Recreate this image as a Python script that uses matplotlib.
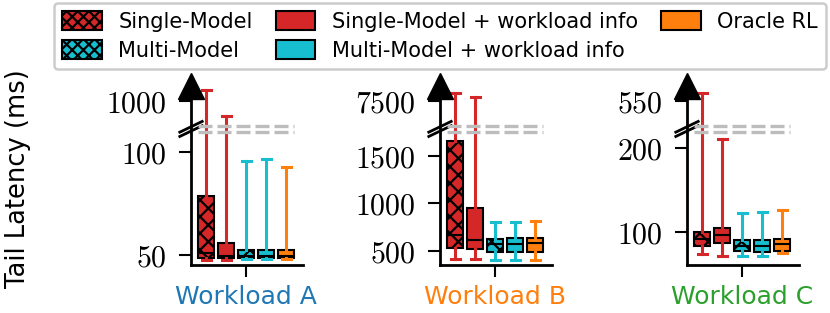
import numpy as np
import matplotlib.pyplot as plt
from matplotlib.patches import Patch

plt.rcParams['font.family'] = 'DejaVu Sans'
plt.rcParams['mathtext.fontset'] = 'cm'
plt.rcParams['hatch.linewidth'] = 1.6

workloads = ['Workload A', 'Workload B', 'Workload C']
workload_colors = ['#1f77b4', '#ff7f0e', '#2ca02c']
methods = ['Single-Model', 'Single-Model + workload info', 'Multi-Model',
           'Multi-Model + workload info', 'Oracle RL']
method_colors = ['#d62728', '#d62728', '#17becf', '#17becf', '#ff7f0e']
hatched = [True, False, True, False, False]

# box stats per workload (methods in the order above)
q1 = [[48.5, 48.5, 48.5, 48.5, 48.5],
      [528, 518, 493, 493, 493],
      [83.6, 86.7, 77.7, 77.0, 77.7]]
med = [[51, 49.5, 49.5, 49.5, 49.5],
       [668, 615, 570, 569, 580],
       [92.5, 96.7, 84.0, 83.5, 86.0]]
q3 = [[78.6, 55.8, 52.4, 52.4, 52.4],
      [1657, 955, 623, 633, 633],
      [100.7, 104.6, 90.8, 90.8, 91.5]]
whislo = [[47.5, 47.5, 47.8, 47.8, 47.8],
          [413, 413, 405, 405, 405],
          [74, 72, 72, 72, 75]]
whishi = [[1349, 524, 95.8, 96.6, 92.9],
          [9073, 8378, 807, 807, 810],
          [647, 211, 123.4, 124, 126.5]]

yticks = [[50, 100, 1000], [500, 1000, 1500, 7500], [100, 200, 550]]

# broken y axis: linear below the break, compressed above it
scale_lo = [45.1, 353, 61]
scale_break = [111.2, 1780, 223]
scale_hi = [1476, 10564, 725]
break_frac = 0.76


def make_scale(lo, brk, hi, fb):
    def fwd(v):
        v = np.asarray(v, dtype=float)
        return np.where(v <= brk, (v - lo) / (brk - lo) * fb,
                        fb + (v - brk) / (hi - brk) * (1 - fb))

    def inv(f):
        f = np.asarray(f, dtype=float)
        return np.where(f <= fb, lo + f / fb * (brk - lo),
                        brk + (f - fb) / (1 - fb) * (hi - brk))
    return fwd, inv


fig = plt.figure(figsize=(8.3, 3.13), dpi=100)
lefts = [191 / 830, 440 / 830, 687 / 830]
positions = [-2, -1, 0, 1, 2]

for k in range(3):
    ax = fig.add_axes([lefts[k], 0.1534, 0.135, 0.5719])
    fwd, inv = make_scale(scale_lo[k], scale_break[k], scale_hi[k], break_frac)
    ax.set_yscale('function', functions=(fwd, inv))

    stats = []
    for i in range(5):
        stats.append(dict(q1=q1[k][i], med=med[k][i], q3=q3[k][i],
                          whislo=whislo[k][i], whishi=whishi[k][i], fliers=[]))
    bp = ax.bxp(stats, positions=positions, widths=0.8, patch_artist=True,
                showfliers=False, capwidths=0.45,
                boxprops=dict(edgecolor='k', linewidth=1.5),
                medianprops=dict(color='k', linewidth=1.5),
                whiskerprops=dict(linewidth=2.2),
                capprops=dict(linewidth=2.2))
    for i in range(5):
        bp['boxes'][i].set_facecolor(method_colors[i])
        if hatched[i]:
            bp['boxes'][i].set_hatch('xx')
        for line in bp['whiskers'][2 * i:2 * i + 2] + bp['caps'][2 * i:2 * i + 2]:
            line.set_color(method_colors[i])

    ax.set_ylim(scale_lo[k], scale_hi[k])
    ax.set_xlim(-2.75, 2.85)
    ax.set_yticks(yticks[k], ['$%d$' % t for t in yticks[k]])
    ax.set_xticks([0], [workloads[k]])
    ax.get_xticklabels()[0].set_color(workload_colors[k])
    ax.tick_params(axis='y', length=8.6, width=1.5, pad=9, labelsize=21.5)
    ax.tick_params(axis='x', length=8.6, width=1.5, pad=6, labelsize=18)
    ax.minorticks_off()
    for s in ['top', 'right']:
        ax.spines[s].set_visible(False)
    for s in ['left', 'bottom']:
        ax.spines[s].set_linewidth(2)

    # arrow on top of the y axis
    ax.plot(0, 1, '^k', ms=19, transform=ax.transAxes, clip_on=False)
    # break marks
    for off in (-0.012, 0.012):
        ax.plot([-0.1, 0.1], [break_frac + off - 0.03, break_frac + off + 0.03],
                color='k', lw=2, transform=ax.transAxes, clip_on=False)
    # dashed break lines
    for fy in (0.777, 0.743):
        ax.plot([-2.4, 2.4], [fy, fy], color='#bdbdbd', lw=2.4,
                dashes=(4.2, 1.5), transform=ax.get_xaxis_transform(), zorder=3)

fig.text(18 / 830, 1 - 179 / 313, 'Tail Latency (ms)', rotation=90,
         ha='center', va='center', fontsize=18.5)

handles = [Patch(facecolor=method_colors[i], edgecolor='k', linewidth=1.5,
                 hatch='xxx' if hatched[i] else None) for i in [0, 2, 1, 3, 4]]
labels = [methods[i] for i in [0, 2, 1, 3, 4]]
leg = fig.legend(handles, labels, ncol=3, loc='upper center',
                 bbox_to_anchor=(440 / 830, 0.997), fontsize=15.0, fancybox=True,
                 edgecolor='#cccccc', framealpha=1, handlelength=1.9,
                 handleheight=1.0, handletextpad=0.8, columnspacing=1.1,
                 labelspacing=0.4, borderaxespad=0.1)
leg.get_frame().set_linewidth(1.8)

fig.savefig('out.png', dpi=100)
